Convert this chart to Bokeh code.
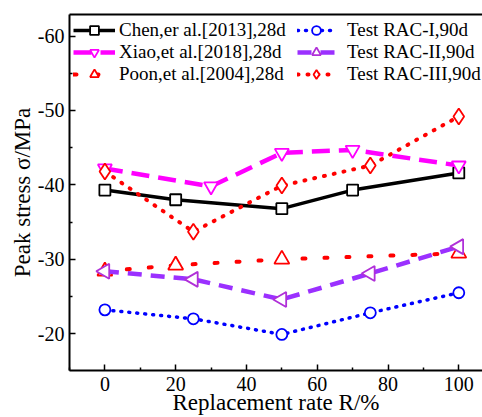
import math
from bokeh.plotting import figure
from bokeh.models import Range1d, FixedTicker, Legend, LegendItem, LinearAxis
from bokeh.embed import file_html
from bokeh.resources import INLINE

# ---- data ----
x_chen = [0, 20, 50, 70, 100]
y_chen = [-39.3, -38.0, -36.8, -39.3, -41.6]
x_xiao = [0, 30, 50, 70, 100]
y_xiao = [-42.2, -39.8, -44.3, -44.7, -42.6]
x_poon = [0, 20, 50, 100]
y_poon = [-28.4, -29.2, -30.0, -30.8]
x_test = [0, 25, 50, 75, 100]
y_rac1 = [-23.2, -22.0, -19.9, -22.8, -25.5]
y_rac2 = [-28.4, -27.3, -24.6, -28.1, -31.7]
y_rac3 = [-41.8, -33.7, -39.9, -42.6, -49.2]

x_ticks = [0, 20, 40, 60, 80, 100]
x_minor = [-10, 10, 30, 50, 70, 90]
y_ticks = [-60, -50, -40, -30, -20]
y_minor = [-65, -55, -45, -35, -25, -15]

labels_left = ["Chen,er al.[2013],28d", "Xiao,et al.[2018],28d", "Poon,et al.[2004],28d"]
labels_right = ["Test RAC-I,90d", "Test RAC-II,90d", "Test RAC-III,90d"]
x_title = "Replacement rate R/%"
y_title = "Peak stress σ/MPa"

FONT = "Liberation Serif"

p = figure(width=482, height=417, output_backend="svg", toolbar_location=None,
           x_range=Range1d(-10, 106.7), y_range=Range1d(-15.05, -62.9),
           min_border_left=69, min_border_right=0, min_border_top=14, min_border_bottom=47)
p.background_fill_color = "white"
p.border_fill_color = "white"
p.outline_line_color = None
p.xgrid.visible = False
p.ygrid.visible = False

bx = p.below[0]
ly = p.left[0]

# top frame line (no right edge line, as in the reference)
top_axis = LinearAxis(ticker=FixedTicker(ticks=[], minor_ticks=[]), axis_line_width=2,
                      axis_line_color="black", major_tick_line_color=None,
                      minor_tick_line_color=None, major_label_text_font_size="0px")
p.add_layout(top_axis, "above")

for ax in (bx, ly):
    ax.axis_line_width = 2
    ax.axis_line_color = "black"
    ax.major_tick_in = 6
    ax.major_tick_out = 0
    ax.minor_tick_in = 3
    ax.minor_tick_out = 0
    ax.major_tick_line_width = 1.5
    ax.minor_tick_line_width = 1.5
    ax.major_label_text_font = FONT
    ax.major_label_text_font_size = "20px"
    ax.major_label_text_color = "black"
    ax.axis_label_text_font = FONT
    ax.axis_label_text_font_size = "23px"
    ax.axis_label_text_font_style = "normal"
    ax.axis_label_text_color = "black"

bx.ticker = FixedTicker(ticks=x_ticks, minor_ticks=x_minor)
ly.ticker = FixedTicker(ticks=y_ticks, minor_ticks=y_minor)
ly.major_label_overrides = {t: str(t) for t in y_ticks}
bx.major_label_standoff = 6
ly.major_label_standoff = 5
bx.axis_label = x_title
ly.axis_label = y_title
bx.axis_label_standoff = -4
ly.axis_label_standoff = 0

MS_LW = 1.8

# Chen
l1 = p.line(x_chen, y_chen, line_color="black", line_width=3.5)
s1 = p.scatter(x_chen, y_chen, marker="square", size=11, fill_color="white",
               line_color="black", line_width=MS_LW)
# Xiao
l2 = p.line(x_xiao, y_xiao, line_color="#FF00FF", line_width=4.5, line_dash="18 9")
s2 = p.scatter(x_xiao, y_xiao, marker="inverted_triangle", size=14, fill_color="white",
               line_color="#FF00FF", line_width=MS_LW)
# Poon
l3 = p.line(x_poon, y_poon, line_color="#FF0000", line_width=4, line_dash="3 19", line_cap="round")
s3 = p.scatter(x_poon, y_poon, marker="triangle", size=15, fill_color="white",
               line_color="#FF0000", line_width=MS_LW)
# RAC-I
l4 = p.line(x_test, y_rac1, line_color="#0000FF", line_width=3.5, line_dash="1 7", line_cap="round")
s4 = p.scatter(x_test, y_rac1, marker="circle", size=11, fill_color="white",
               line_color="#0000FF", line_width=MS_LW)
# RAC-II
l5 = p.line(x_test, y_rac2, line_color="#9B30FF", line_width=4.5, line_dash="14 9")
s5 = p.scatter(x_test, y_rac2, marker="triangle", angle=math.pi / 2, size=15, fill_color="white",
               line_color="#B030D8", line_width=MS_LW)
# RAC-III
l6 = p.line(x_test, y_rac3, line_color="#FF0000", line_width=4, line_dash="1 9", line_cap="round")
s6 = p.scatter(x_test, y_rac3, marker="diamond", size=16, fill_color="white",
               line_color="#FF0000", line_width=MS_LW)

def make_legend(items, loc, glyph_w, standoff):
    lg = Legend(items=items, location=loc, orientation="vertical",
                glyph_width=glyph_w, glyph_height=22, label_height=22, spacing=-1,
                padding=0, margin=0, label_standoff=standoff,
                background_fill_alpha=0, border_line_alpha=0,
                label_text_font=FONT, label_text_font_size="19px", label_text_color="black")
    return lg

leg1 = make_legend([LegendItem(label=labels_left[0], renderers=[l1, s1]),
                    LegendItem(label=labels_left[1], renderers=[l2, s2]),
                    LegendItem(label=labels_left[2], renderers=[l3, s3])], (4, 285), 42, 4)
leg2 = make_legend([LegendItem(label=labels_right[0], renderers=[l4, s4]),
                    LegendItem(label=labels_right[1], renderers=[l5, s5]),
                    LegendItem(label=labels_right[2], renderers=[l6, s6])], (228, 285), 38, 12)
p.add_layout(leg1)
p.add_layout(leg2)

open("out.html", "w").write(file_html(p, INLINE))
